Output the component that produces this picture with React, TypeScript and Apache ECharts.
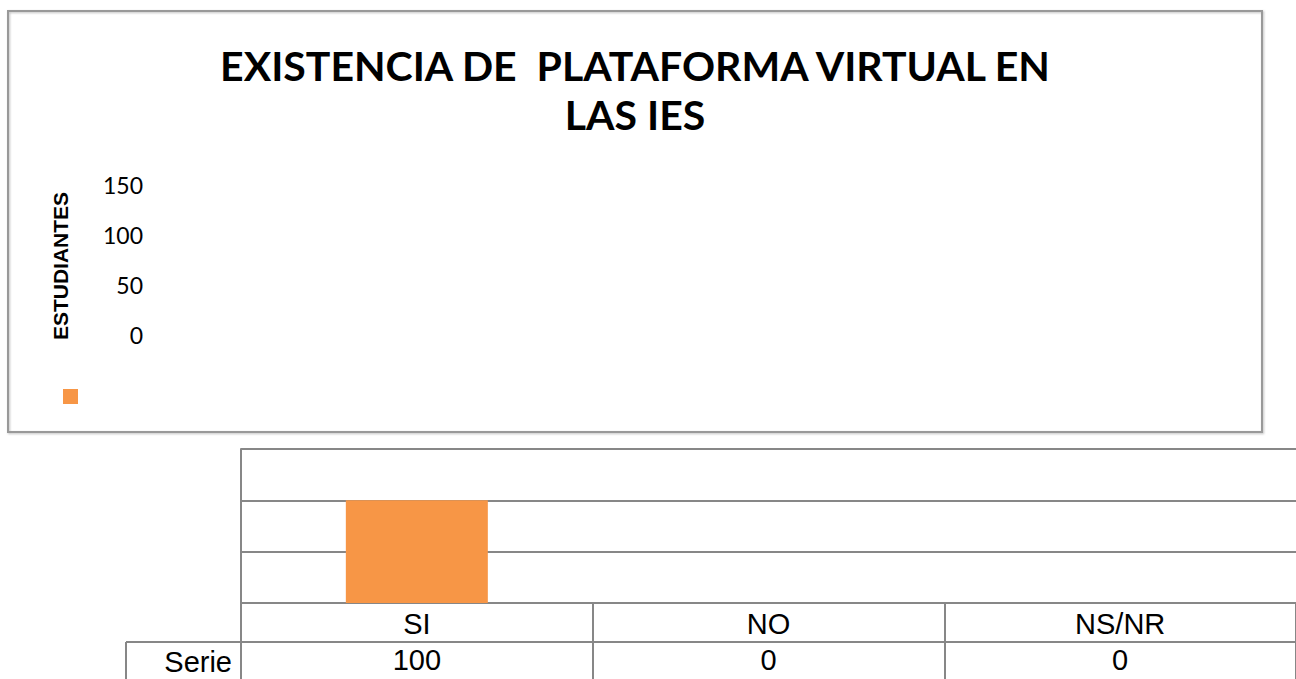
import React, { useEffect, useRef } from "react";
import * as echarts from "echarts";

const titleText = "EXISTENCIA DE  PLATAFORMA VIRTUAL EN\nLAS IES";
const categories = ["SI", "NO", "NS/NR"];
const seriesName = "Serie";
const values = [100, 0, 0];
const yTicks = { min: 0, max: 150, interval: 50 };
const yName = "ESTUDIANTES";

const ORANGE = "#F79646";
const GRID = "#878787";

export default function App() {
  const ref = useRef<HTMLDivElement>(null);
  useEffect(() => {
    if (!ref.current) return;
    const chart = echarts.init(ref.current, null, { renderer: "svg" });
    chart.setOption({
      animation: false,
      backgroundColor: "#ffffff",
      title: {
        text: titleText,
        left: 635,
        textAlign: "center",
        top: 41,
        padding: 0,
        textStyle: {
          fontFamily: "Lato",
          fontWeight: "bold",
          fontSize: 41,
          lineHeight: 49,
          color: "#000",
        },
      },
      legend: {
        left: 63,
        top: 389,
        padding: 0,
        itemWidth: 15,
        itemHeight: 15,
        icon: "rect",
        formatter: () => "",
        data: [seriesName],
      },
      grid: [
        { left: 241, top: 449, width: 1062, height: 154 },
        { left: 145, top: 185, width: 1, height: 150 },
      ],
      xAxis: [
        {
          type: "category",
          gridIndex: 0,
          data: categories,
          axisLine: { lineStyle: { color: GRID, width: 2 } },
          axisTick: { show: true, length: 80, lineStyle: { color: GRID, width: 2 } },
          axisLabel: {
            margin: 6,
            fontFamily: "Liberation Sans",
            fontSize: 29,
            color: "#000",
          },
        },
        {
          type: "category",
          gridIndex: 0,
          position: "bottom",
          offset: 36,
          data: values.map((v) => String(v)),
          axisLine: { show: false },
          axisTick: { show: false },
          axisLabel: {
            margin: 6,
            fontFamily: "Liberation Sans",
            fontSize: 29,
            color: "#000",
          },
        },
        {
          type: "category",
          gridIndex: 1,
          data: categories,
          show: false,
        },
      ],
      yAxis: [
        {
          type: "value",
          gridIndex: 0,
          ...yTicks,
          axisLine: { show: true, lineStyle: { color: GRID, width: 2 } },
          axisTick: { show: false },
          axisLabel: { show: false },
          splitLine: { lineStyle: { color: GRID, width: 2 } },
        },
        {
          type: "value",
          gridIndex: 1,
          ...yTicks,
          name: yName,
          nameLocation: "middle",
          nameRotate: 90,
          nameGap: 74,
          nameTextStyle: {
            fontFamily: "Liberation Sans",
            fontWeight: "bold",
            fontSize: 21,
            color: "#000",
            padding: [0, 12, 0, 0],
          },
          axisLine: { show: false },
          axisTick: { show: false },
          splitLine: { show: false },
          axisLabel: {
            margin: 2,
            fontFamily: "Lato",
            fontSize: 23,
            color: "#000",
          },
        },
      ],
      series: [
        {
          name: seriesName,
          type: "bar",
          xAxisIndex: 0,
          yAxisIndex: 0,
          data: values,
          barWidth: 142,
          itemStyle: { color: ORANGE },
        },
      ],
      graphic: [
        {
          type: "rect",
          shape: { x: 8, y: 11, width: 1254, height: 421 },
          style: {
            fill: "none",
            stroke: "#999999",
            lineWidth: 2,
            shadowColor: "rgba(0,0,0,0.25)",
            shadowBlur: 2,
            shadowOffsetX: 1,
            shadowOffsetY: 1,
          },
          silent: true,
        },
        {
          type: "line",
          shape: { x1: 126, y1: 642, x2: 1296, y2: 642 },
          style: { stroke: GRID, lineWidth: 2 },
          silent: true,
        },
        {
          type: "line",
          shape: { x1: 126, y1: 642, x2: 126, y2: 679 },
          style: { stroke: GRID, lineWidth: 2 },
          silent: true,
        },
        {
          type: "text",
          x: 232,
          y: 662,
          style: {
            text: seriesName,
            fontFamily: "Liberation Sans",
            fontSize: 29,
            fill: "#000",
            align: "right",
            verticalAlign: "middle",
          },
          silent: true,
        },
      ],
    });
    return () => chart.dispose();
  }, []);
  return (
    <div
      ref={ref}
      style={{ position: "absolute", left: 0, top: 0, width: 1296, height: 679 }}
    />
  );
}
